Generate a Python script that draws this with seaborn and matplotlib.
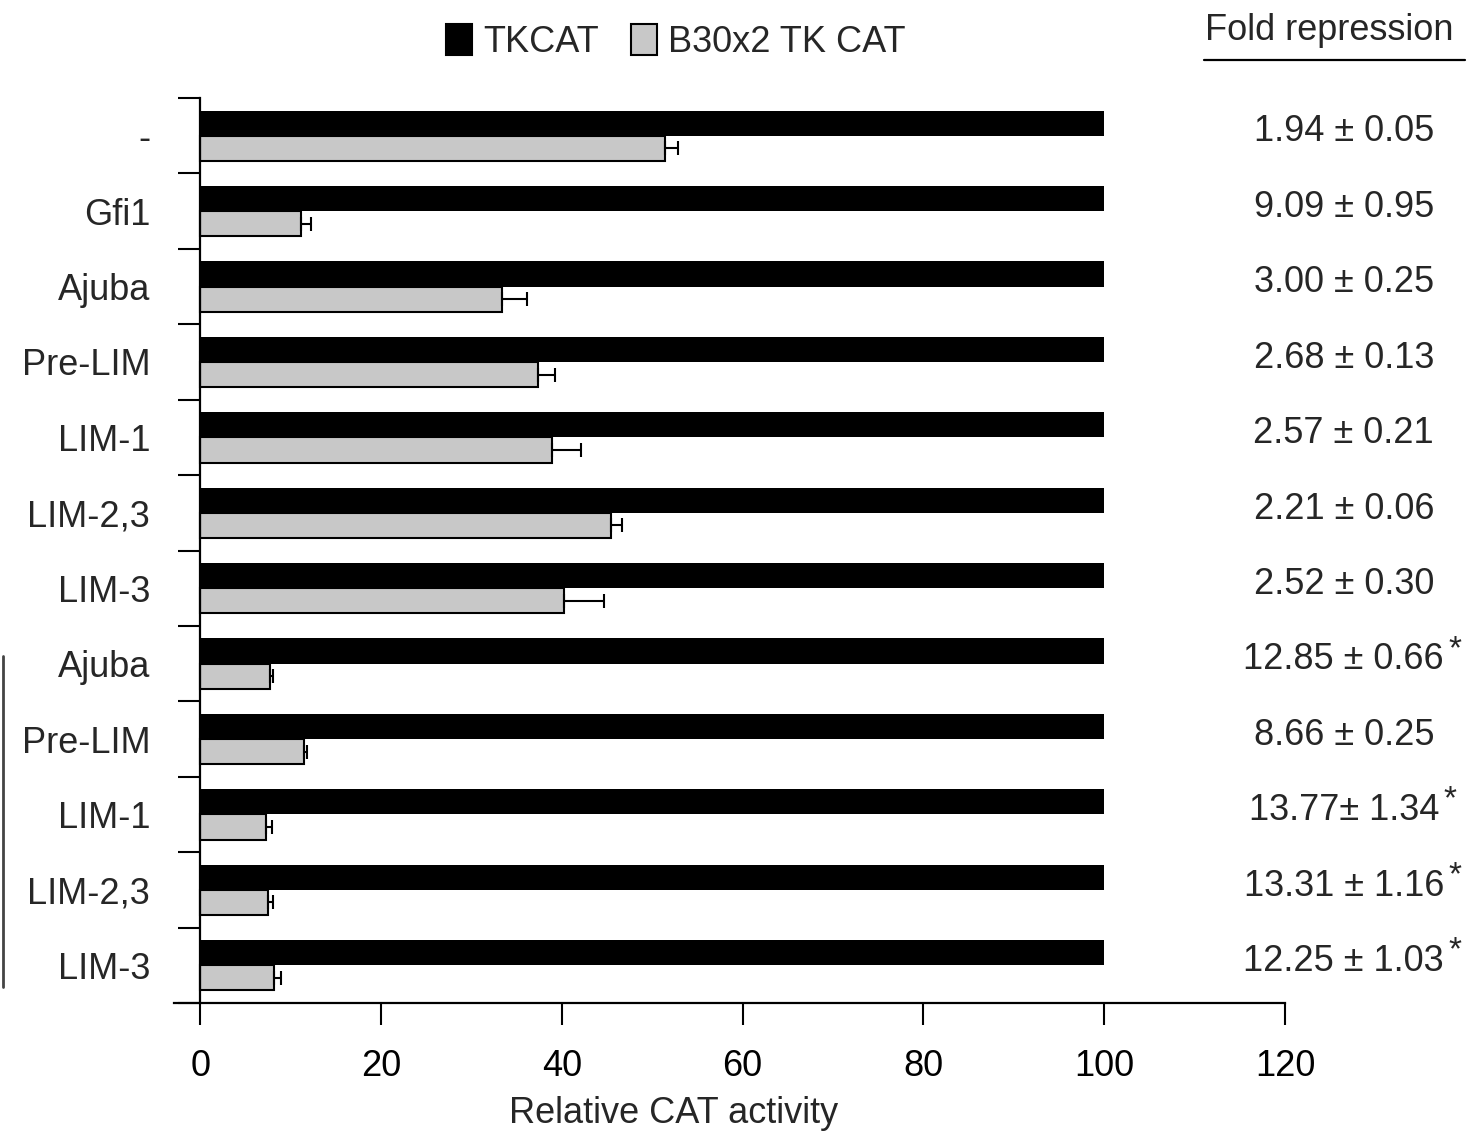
import numpy as np
import pandas as pd
import matplotlib
matplotlib.use("Agg")
import matplotlib.pyplot as plt
from matplotlib.lines import Line2D
import seaborn as sns

# ---------------- data ----------------
labels = ["-", "Gfi1", "Ajuba", "Pre-LIM", "LIM-1", "LIM-2,3", "LIM-3",
          "Ajuba", "Pre-LIM", "LIM-1", "LIM-2,3", "LIM-3"]
tkcat = [100, 100, 100, 100, 100, 100, 100, 100, 100, 100, 100, 100]
b30 = [51.4, 11.1, 33.4, 37.4, 38.9, 45.4, 40.2, 7.7, 11.5, 7.3, 7.5, 8.2]
b30_err = [1.4, 1.1, 2.8, 1.9, 3.2, 1.3, 4.5, 0.4, 0.3, 0.6, 0.6, 0.7]
fold = ["1.94 ± 0.05", "9.09 ± 0.95", "3.00 ± 0.25", "2.68 ± 0.13",
        "2.57 ± 0.21", "2.21 ± 0.06", "2.52 ± 0.30", "12.85 ± 0.66",
        "8.66 ± 0.25", "13.77± 1.34", "13.31 ± 1.16", "12.25 ± 1.03"]
star = [False, False, False, False, False, False, False, True, False, True, True, True]
series_names = ["TKCAT", "B30x2 TK CAT"]
xticks = [0, 20, 40, 60, 80, 100, 120]

# ---------------- style ----------------
sns.set_style("white")
plt.rcParams["font.family"] = ["Liberation Sans", "DejaVu Sans"]
FS = 26

keys = [f"r{i}" for i in range(len(labels))]
df = pd.DataFrame({
    "row": keys * 2,
    "value": tkcat + b30,
    "series": [series_names[0]] * len(keys) + [series_names[1]] * len(keys),
})

W, H = 1469, 1134
fig = plt.figure(figsize=(W / 100, H / 100), dpi=100)
ax = fig.add_axes([174 / W, 1 - 1003 / H, (1285 - 174) / W, (1003 - 98) / H])

sns.barplot(data=df, y="row", x="value", hue="series", order=keys,
            hue_order=series_names, orient="h",
            palette={series_names[0]: "black", series_names[1]: "#c8c8c8"},
            width=0.667, errorbar=None, ax=ax, legend=True)

# edges
for bar in ax.containers[0]:
    bar.set_edgecolor("none")
for bar in ax.containers[1]:
    bar.set_edgecolor("black")
    bar.set_linewidth(1.5)

# error bars on gray bars
gx, gy = [], []
for bar in ax.containers[1]:
    gx.append(bar.get_width())
    gy.append(bar.get_y() + bar.get_height() / 2)
ax.errorbar(gx, gy, xerr=[np.zeros(len(b30_err)), b30_err], fmt="none",
            ecolor="black", elinewidth=1.5, capsize=5, capthick=1.5, zorder=5)

# axes limits & spines
ax.set_xlim(-2.9, 120)
ax.set_ylim(len(labels) - 0.5, -0.5)
for s in ["top", "right"]:
    ax.spines[s].set_visible(False)
ax.spines["left"].set_position(("data", 0))
for s in ["left", "bottom"]:
    ax.spines[s].set_linewidth(1.6)
    ax.spines[s].set_color("black")

# ticks
ax.set_xticks(xticks)
ax.set_xticklabels([str(t) for t in xticks], fontsize=FS)
ax.tick_params(axis="x", direction="out", length=16, width=1.5, pad=17,
               colors="black", bottom=True)
ax.set_yticks(np.arange(-0.5, len(labels), 1))
ax.set_yticklabels([])
ax.set_yticks(np.arange(len(labels)), minor=True)
ax.set_yticklabels(labels, minor=True, fontsize=FS)
ax.tick_params(axis="y", which="major", direction="out", length=16, width=1.5,
               colors="black", left=True)
ax.tick_params(axis="y", which="minor", length=0, pad=36)
ax.set_ylabel("")

ax.set_xlabel("Relative CAT activity", fontsize=FS)
ax.xaxis.set_label_coords(0.45, -0.103)

# fold repression column
for i, (txt, st) in enumerate(zip(fold, star)):
    t = ax.text(126.5, i - 0.05, txt, ha="center", va="center", fontsize=FS,
                clip_on=False)
    if st:
        ax.annotate("*", xy=(1.0, 0.8), xycoords=t, ha="left", va="center",
                    fontsize=24, xytext=(3, 0), textcoords="offset points")

fig.text(1329 / W, 1 - 30 / H, "Fold repression", ha="center", va="center",
         fontsize=FS)
fig.add_artist(Line2D([1204 / W, 1465 / W], [1 - 60 / H, 1 - 60 / H],
                      color="black", lw=1.6, transform=fig.transFigure))

# left bracket line
fig.add_artist(Line2D([3 / W, 3 / W], [1 - 656 / H, 1 - 987 / H],
                      color="#444444", lw=2, transform=fig.transFigure))

# legend
handles, lbls = ax.get_legend_handles_labels()
ax.get_legend().remove()
for h in handles:
    h.set_edgecolor("black")
    h.set_linewidth(1.5)
fig.legend(handles, lbls, loc="center", bbox_to_anchor=(676 / W, 1 - 42 / H),
           ncol=2, frameon=False, fontsize=FS, handlelength=0.72,
           handleheight=0.95, handletextpad=0.3, columnspacing=0.9,
           borderpad=0, borderaxespad=0)

fig.savefig("out.png", dpi=100)
